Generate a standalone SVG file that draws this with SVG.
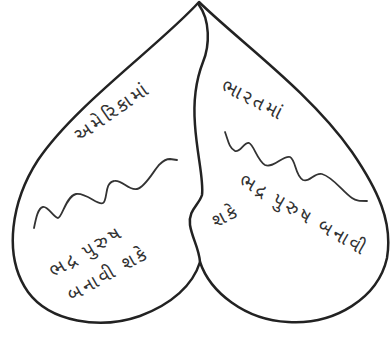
<svg xmlns="http://www.w3.org/2000/svg" width="390" height="338" viewBox="0 0 390 338">
<style>
.ln{fill:none;stroke:#222;stroke-width:2.5;stroke-linecap:round;stroke-linejoin:round}
.wv{fill:none;stroke:#333;stroke-width:1.8;stroke-linecap:round;stroke-linejoin:round}
.t{font-family:"Noto Sans Gujarati","Lohit Gujarati","Noto Sans",sans-serif;fill:#333;font-size:19px;letter-spacing:3px}
</style>
<rect width="390" height="338" fill="#fff"/>
<g id="outline">
<path class="ln" d="M199,2 C160,45 75,105 38,160 C12,200 2,255 28,292 C50,322 100,330 140,316 C172,304 193,285 200,262 C210,292 245,320 288,322 C335,325 378,298 387,258 C393,222 378,190 352,152 C310,92 240,42 199,2 Z"/>
</g>
<g id="divider">
<path class="ln" d="M199,5 C210,20 210,45 203,62 C196,80 193,100 195,125 C197,155 204,180 202,195 C199,205 188,210 190,225 C192,238 199,248 200,262"/>
</g>
<g id="left-wave">
<path class="wv" d="M34,228 C36,218 38,208 43,207 C48,206 54,218 58,218 C62,218 66,196 76,194 C86,192 98,206 103,203 C108,200 104,183 114,181 C122,179 128,191 137,189 C146,187 155,168 160,164 C164,160 166,159 170,159 L177,160"/>
</g>
<g id="right-wave">
<path class="wv" d="M225,132 C228,140 229,148 235,151 C240,153 244,142 249,143 C254,145 257,160 265,165 C273,169 283,155 290,157 C296,160 295,176 303,180 C310,183 314,172 322,174 C333,177 343,192 352,198 C356,201 360,201 367,201"/>
</g>
<g id="left-text">
<text class="t" transform="translate(80,142) rotate(-35)">અમેરિકામાં</text>
<text class="t" transform="translate(54,278) rotate(-31)">ભદ્ર પુરુષ</text>
<text class="t" transform="translate(72,302) rotate(-30)">બનાવી શકે</text>
</g>
<g id="right-text">
<text class="t" transform="translate(220,90) rotate(27)">ભારતમાં</text>
<text class="t" letter-spacing="4" transform="translate(238,184) rotate(30)">ભદ્ર પુરુષ બનાવી</text>
<text class="t" transform="translate(216,228) rotate(-28)">શકે</text>
</g>
</svg>
